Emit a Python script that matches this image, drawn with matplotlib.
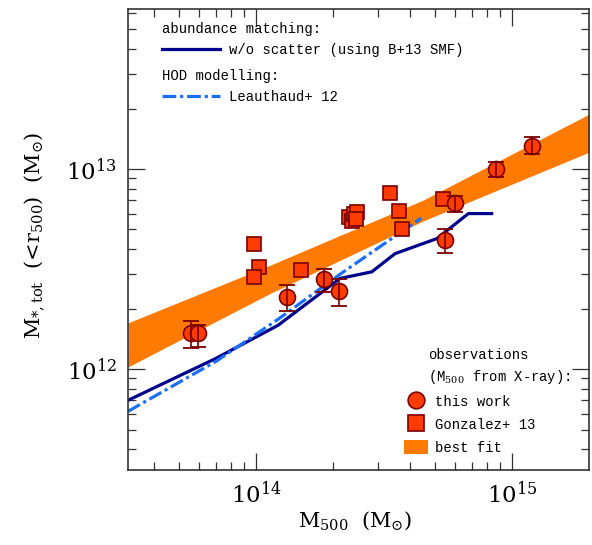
import numpy as np
import matplotlib
matplotlib.use('Agg')
import matplotlib.pyplot as plt
from matplotlib.lines import Line2D
from matplotlib.patches import Patch

plt.rcParams['font.family'] = 'DejaVu Serif'
plt.rcParams['mathtext.fontset'] = 'dejavuserif'

# this work (M500 from X-ray), errors in dex
m500_tw = [5.57e13, 5.93e13, 1.32e14, 1.85e14, 2.10e14, 5.47e14, 5.98e14, 8.66e14, 1.20e15]
mstar_tw = [1.51e12, 1.51e12, 2.30e12, 2.81e12, 2.46e12, 4.45e12, 6.74e12, 9.97e12, 1.31e13]
err_lo_dex = [0.072, 0.065, 0.070, 0.062, 0.077, 0.067, 0.042, 0.040, 0.043]
err_hi_dex = [0.062, 0.043, 0.058, 0.053, 0.062, 0.055, 0.037, 0.038, 0.045]

# Gonzalez+13
m500_g13 = [9.82e13, 1.03e14, 9.82e13, 1.50e14, 2.31e14, 2.37e14, 2.42e14, 2.48e14, 2.46e14,
            3.34e14, 3.60e14, 3.73e14, 5.36e14]
mstar_g13 = [4.22e12, 3.25e12, 2.89e12, 3.13e12, 5.75e12, 5.50e12, 5.96e12, 6.10e12, 5.62e12,
             7.56e12, 6.17e12, 5.05e12, 7.06e12]

# best fit band (log10)
fit_logm = [13.5, 14.055, 14.367, 14.652, 15.301]
fit_lo = [12.012, 12.379, 12.568, 12.741, 13.085]
fit_hi = [12.232, 12.520, 12.690, 12.845, 13.275]

# abundance matching w/o scatter (log10)
am_logm = [13.5, 13.844, 14.086, 14.328, 14.452, 14.543, 14.706, 14.829, 14.92]
am_logms = [11.845, 12.055, 12.22, 12.454, 12.487, 12.578, 12.653, 12.778, 12.778]

# Leauthaud+12 HOD (log10)
hod_logm = [13.5, 13.844, 14.086, 14.328, 14.645]
hod_logms = [11.79, 12.04, 12.25, 12.475, 12.755]

c_band = '#ff7a00'
c_face = '#ff3c00'
c_edge = '#7a0000'
c_am = '#00008c'
c_hod = '#1a6fff'

fig = plt.figure(figsize=(5.92, 5.45), dpi=100)
ax = fig.add_axes([0.2162, 0.1376, 0.7787, 0.8459])
ax.set_xscale('log')
ax.set_yscale('log')

ax.fill_between(10**np.array(fit_logm), 10**np.array(fit_lo), 10**np.array(fit_hi),
                color=c_band, lw=0, zorder=1)
ax.plot(10**np.array(am_logm), 10**np.array(am_logms), color=c_am, lw=2.3, zorder=2)
ax.plot(10**np.array(hod_logm), 10**np.array(hod_logms), color=c_hod, lw=2.3,
        dashes=(4.3, 1.2, 1, 1.2), zorder=2)

ax.plot(m500_g13, mstar_g13, 's', ms=10.5, mfc=c_face, mec=c_edge, mew=1.2, zorder=3)

y = np.array(mstar_tw)
yerr = [y - y * 10**(-np.array(err_lo_dex)), y * 10**np.array(err_hi_dex) - y]
ax.plot(m500_tw, mstar_tw, 'o', ms=11.5, mfc=c_face, mec=c_edge, mew=1.2, zorder=4)
ax.errorbar(m500_tw, mstar_tw, yerr=yerr, fmt='none', ecolor=c_edge, elinewidth=1.2,
            capsize=6, capthick=1.3, zorder=5)

ax.set_xlim(10**13.5, 10**15.30)
ax.set_ylim(10**11.497, 10**13.80)

ax.tick_params(which='both', direction='in', top=True, right=True, color='#333333')
ax.tick_params(which='major', length=12, width=0.9, labelsize=16.5, pad=8)
ax.tick_params(which='minor', length=6, width=0.9)
for s in ax.spines.values():
    s.set_linewidth(1.2)
    s.set_color('#333333')

ax.set_xlabel(r'M$_{500}$  (M$_{\odot}$)', fontsize=15)
ax.set_ylabel(r'M$_{*,\mathrm{tot}}$  (<r$_{500}$)  (M$_{\odot}$)', fontsize=15)
ax.xaxis.set_label_coords(0.492, -0.085)
ax.yaxis.set_label_coords(-0.178, 0.51)

mono = {'family': 'Liberation Mono', 'size': 10}

leg1 = ax.legend(handles=[Line2D([], [], color=c_am, lw=2.3)],
                 labels=['w/o scatter (using B+13 SMF)'], title='abundance matching:',
                 alignment='left', loc='upper left', bbox_to_anchor=(0.0738, 0.972),
                 frameon=False, prop=mono, title_fontproperties=mono, borderpad=0,
                 borderaxespad=0, handlelength=4.2, handletextpad=0.65)
ax.add_artist(leg1)
leg2 = ax.legend(handles=[Line2D([], [], color=c_hod, lw=2.3, dashes=(4.3, 1.2, 1, 1.2))],
                 labels=['Leauthaud+ 12'], title='HOD modelling:',
                 alignment='left', loc='upper left', bbox_to_anchor=(0.0738, 0.870),
                 frameon=False, prop=mono, title_fontproperties=mono, borderpad=0,
                 borderaxespad=0, handlelength=4.2, handletextpad=0.65)
ax.add_artist(leg2)

ax.text(0.651, 0.2495, 'observations', transform=ax.transAxes, va='center', ha='left',
        fontdict=mono)
ax.text(0.651, 0.2017, r'(M$_{500}$ from X-ray):', transform=ax.transAxes, va='center',
        ha='left', fontdict=mono)
obs_handles = [Line2D([], [], ls='none', marker='o', ms=12, mfc=c_face, mec=c_edge, mew=1.2),
               Line2D([], [], ls='none', marker='s', ms=11, mfc=c_face, mec=c_edge, mew=1.2),
               Patch(color=c_band, lw=0)]
ax.legend(handles=obs_handles, labels=['this work', 'Gonzalez+ 13', 'best fit'],
          loc='upper left', bbox_to_anchor=(0.599, 0.164), frameon=False, prop=mono,
          borderpad=0, borderaxespad=0, handlelength=1.7, handletextpad=0.55,
          labelspacing=0.62, handleheight=1.1)

fig.savefig('out.png', dpi=100)
